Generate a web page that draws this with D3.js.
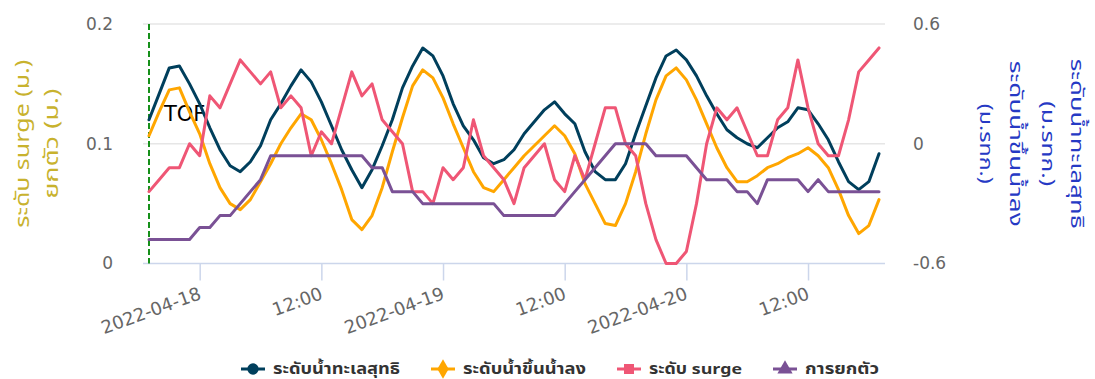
<!DOCTYPE html>
<html>
<head>
<meta charset="utf-8">
<script src="https://cdn.jsdelivr.net/npm/d3@7"></script>
<style>
  html, body { margin: 0; padding: 0; background: #ffffff; }
  svg { display: block; }
</style>
</head>
<body>
<svg id="chart" width="1095" height="379"></svg>
<script>
// Hourly series, 2022-04-17 19:00 to 2022-04-20 19:00
const startTime = "2022-04-17 19:00";

// ระดับน้ำทะเลสุทธิ (m MSL) – right axis
const netLevel = [0.12,0.25,0.38,0.39,0.30,0.20,0.08,-0.03,-0.11,-0.14,-0.09,-0.01,0.12,0.20,0.29,0.37,0.31,0.21,0.09,-0.03,-0.13,-0.22,-0.13,-0.01,0.12,0.28,0.39,0.48,0.44,0.34,0.20,0.09,0.02,-0.07,-0.10,-0.08,-0.03,0.05,0.11,0.17,0.21,0.15,0.10,-0.04,-0.14,-0.18,-0.18,-0.10,0.05,0.19,0.33,0.44,0.47,0.42,0.34,0.24,0.15,0.07,0.03,0.00,-0.02,0.03,0.08,0.11,0.18,0.17,0.10,0.02,-0.09,-0.19,-0.23,-0.19,-0.05];

// ระดับน้ำขึ้นน้ำลง (m MSL) – right axis
const tideLevel = [0.04,0.16,0.27,0.28,0.16,0.05,-0.10,-0.22,-0.30,-0.33,-0.28,-0.19,-0.10,0.00,0.08,0.15,0.12,0.02,-0.10,-0.23,-0.38,-0.43,-0.36,-0.22,-0.04,0.13,0.29,0.37,0.33,0.23,0.10,-0.02,-0.14,-0.22,-0.24,-0.18,-0.12,-0.06,-0.01,0.04,0.09,0.04,-0.05,-0.20,-0.30,-0.40,-0.41,-0.30,-0.14,0.05,0.22,0.34,0.38,0.32,0.22,0.10,-0.02,-0.12,-0.19,-0.19,-0.16,-0.12,-0.10,-0.07,-0.05,-0.02,-0.06,-0.12,-0.23,-0.36,-0.45,-0.41,-0.28];

// ระดับ surge (m) – left axis
const surgeLevel = [0.06,0.07,0.08,0.08,0.10,0.09,0.14,0.13,0.15,0.17,0.16,0.15,0.16,0.13,0.14,0.13,0.09,0.11,0.10,0.13,0.16,0.14,0.15,0.12,0.11,0.10,0.06,0.06,0.05,0.08,0.07,0.08,0.12,0.09,0.08,0.07,0.05,0.08,0.09,0.10,0.07,0.06,0.09,0.07,0.10,0.13,0.13,0.10,0.09,0.05,0.02,0.00,0.00,0.01,0.05,0.10,0.13,0.12,0.13,0.11,0.09,0.09,0.12,0.13,0.17,0.13,0.10,0.09,0.09,0.12,0.16,0.17,0.18];

// การยกตัว (m) – left axis
const upliftLevel = [0.02,0.02,0.02,0.02,0.02,0.03,0.03,0.04,0.04,0.05,0.06,0.07,0.09,0.09,0.09,0.09,0.09,0.09,0.09,0.09,0.09,0.09,0.08,0.08,0.06,0.06,0.06,0.05,0.05,0.05,0.05,0.05,0.05,0.05,0.05,0.04,0.04,0.04,0.04,0.04,0.04,0.05,0.06,0.07,0.08,0.09,0.10,0.10,0.10,0.10,0.09,0.09,0.09,0.09,0.08,0.07,0.07,0.07,0.06,0.06,0.05,0.07,0.07,0.07,0.07,0.06,0.07,0.06,0.06,0.06,0.06,0.06,0.06];

const seriesNames = ["ระดับน้ำทะเลสุทธิ", "ระดับน้ำขึ้นน้ำลง", "ระดับ surge", "การยกตัว"];
const leftTicks = [0, 0.1, 0.2];
const rightTicks = [-0.6, 0, 0.6];
const xTickTimes = ["2022-04-18 00:00", "2022-04-18 12:00", "2022-04-19 00:00", "2022-04-19 12:00", "2022-04-20 00:00", "2022-04-20 12:00"];
const leftTitleLines = ["ระดับ surge (ม.)", "ยกตัว (ม.)"];
const rightTitleLines = ["ระดับน้ำทะเลสุทธิ", "(ม.รทก.)", "ระดับน้ำขึ้นน้ำลง", "(ม.รทก.)"];
const markerLabel = "TOF";

// ---- layout & style ----
const plot = { left: 143, right: 885, top: 24, bottom: 263.5 };
const colors = ["#003f5c", "#ffa600", "#ef5675", "#7a5195"];
const thaiFont = "'Noto Sans Thai', 'Noto Sans Thai UI', 'Noto Sans', 'DejaVu Sans', sans-serif";
const numFont = "'DejaVu Sans', sans-serif";
// title columns: centre x and drawn length of each line
const leftTitleLayout = [{ cx: 23, len: 168 }, { cx: 52, len: 110 }];
const rightTitleLayout = [{ cx: 1076, len: 170 }, { cx: 1047, len: 85 }, { cx: 1015, len: 166 }, { cx: 985, len: 80 }];
const legendTextLen = [127, 123, 93, 74];

const parseTime = d3.timeParse("%Y-%m-%d %H:%M");
const t0 = parseTime(startTime);
const times = netLevel.map((_, i) => d3.timeHour.offset(t0, i));

const svg = d3.select("#chart");

const x = d3.scaleTime()
  .domain(d3.extent(times))
  .range([plot.left + 6, plot.right - 6]);
const yLeft = d3.scaleLinear().domain([0, 0.2]).range([plot.bottom, plot.top]);
const yRight = d3.scaleLinear().domain([-0.6, 0.6]).range([plot.bottom, plot.top]);

// grid lines
svg.append("g")
  .selectAll("line")
  .data(leftTicks.filter(d => d !== 0))
  .join("line")
  .attr("x1", plot.left).attr("x2", plot.right)
  .attr("y1", d => yLeft(d)).attr("y2", d => yLeft(d))
  .attr("stroke", "#e6e6e6").attr("stroke-width", 1.5);

// x axis
const xTicks = xTickTimes.map(parseTime);
const fmtDay = d3.timeFormat("%Y-%m-%d"), fmtHour = d3.timeFormat("%H:%M");
const xAxis = d3.axisBottom(x)
  .tickValues(xTicks)
  .tickSize(17)
  .tickSizeOuter(0)
  .tickFormat(d => (d.getHours() === 0 ? fmtDay(d) : fmtHour(d)));
const gx = svg.append("g").attr("transform", `translate(0,${plot.bottom})`).call(xAxis);
gx.select(".domain").remove();
gx.selectAll(".tick line").attr("stroke", "#ccd6eb").attr("stroke-width", 1.5);
gx.selectAll(".tick text")
  .attr("fill", "#666666")
  .style("font-family", numFont)
  .style("font-size", "18px")
  .attr("text-anchor", "end")
  .attr("dy", null)
  .attr("y", null)
  .attr("transform", "translate(2,35) rotate(-20)");
svg.append("line")
  .attr("x1", plot.left).attr("x2", plot.right)
  .attr("y1", plot.bottom).attr("y2", plot.bottom)
  .attr("stroke", "#ccd6eb").attr("stroke-width", 1.5);

// left y axis
const gl = svg.append("g").attr("transform", `translate(${plot.left},0)`)
  .call(d3.axisLeft(yLeft).tickValues(leftTicks).tickSize(0).tickPadding(30).tickFormat(d => String(d)));
gl.select(".domain").remove();
gl.selectAll(".tick text").attr("fill", "#666666").style("font-family", numFont).style("font-size", "17px");

// right y axis
const gr = svg.append("g").attr("transform", `translate(${plot.right},0)`)
  .call(d3.axisRight(yRight).tickValues(rightTicks).tickSize(0).tickPadding(28).tickFormat(d => String(d)));
gr.select(".domain").remove();
gr.selectAll(".tick text").attr("fill", "#666666").style("font-family", numFont).style("font-size", "17px");

// axis titles, one text per line
const midY = (plot.top + plot.bottom) / 2;
svg.append("g").selectAll("text")
  .data(leftTitleLines)
  .join("text")
  .attr("transform", (d, i) => `translate(${leftTitleLayout[i].cx},${midY}) rotate(-90)`)
  .attr("text-anchor", "middle")
  .attr("dominant-baseline", "central")
  .attr("fill", "#c8b22e")
  .attr("textLength", (d, i) => leftTitleLayout[i].len)
  .attr("lengthAdjust", "spacingAndGlyphs")
  .style("font-family", thaiFont)
  .style("font-size", "20px")
  .text(d => d);

svg.append("g").selectAll("text")
  .data(rightTitleLines)
  .join("text")
  .attr("transform", (d, i) => `translate(${rightTitleLayout[i].cx},${midY}) rotate(90)`)
  .attr("text-anchor", "middle")
  .attr("dominant-baseline", "central")
  .attr("fill", "#2639c4")
  .attr("textLength", (d, i) => rightTitleLayout[i].len)
  .attr("lengthAdjust", "spacingAndGlyphs")
  .style("font-family", thaiFont)
  .style("font-size", "18px")
  .text(d => d);

// forecast marker line and label
const markX = x(t0);
svg.append("line")
  .attr("x1", markX).attr("x2", markX)
  .attr("y1", plot.top).attr("y2", plot.bottom)
  .attr("stroke", "#16901a").attr("stroke-width", 2).attr("stroke-dasharray", "6,3");
svg.append("text")
  .attr("x", markX + 15).attr("y", 121)
  .attr("fill", "#000000")
  .style("font-family", "'DejaVu Sans', sans-serif")
  .style("font-size", "21px")
  .text(markerLabel);

// series lines
const series = [
  { values: netLevel, y: yRight },
  { values: tideLevel, y: yRight },
  { values: surgeLevel, y: yLeft },
  { values: upliftLevel, y: yLeft }
];
series.forEach((s, k) => {
  const line = d3.line().x((d, i) => x(times[i])).y(d => s.y(d));
  svg.append("path")
    .datum(s.values)
    .attr("d", line)
    .attr("fill", "none")
    .attr("stroke", colors[k])
    .attr("stroke-width", 3)
    .attr("stroke-linejoin", "round")
    .attr("stroke-linecap", "round");
});

// legend
const symbols = [d3.symbolCircle, d3.symbolDiamond, d3.symbolSquare, d3.symbolTriangle];
const legendY = 369;
const legend = svg.append("g");
const items = seriesNames.map((name, k) => {
  const g = legend.append("g");
  g.append("line").attr("x1", 0).attr("x2", 24).attr("y1", 0).attr("y2", 0)
    .attr("stroke", colors[k]).attr("stroke-width", 3);
  g.append("path").attr("d", d3.symbol(symbols[k], k === 1 ? 110 : 100)())
    .attr("transform", "translate(12,0)").attr("fill", colors[k]);
  g.append("text").attr("x", 32).attr("y", 0).attr("dy", "0.35em")
    .attr("fill", "#333333")
    .attr("textLength", legendTextLen[k])
    .attr("lengthAdjust", "spacingAndGlyphs")
    .style("font-family", thaiFont)
    .style("font-size", "15px").style("font-weight", "bold")
    .text(name);
  return { g, w: 32 + legendTextLen[k] };
});
const gap = 31;
const total = d3.sum(items, d => d.w) + gap * (items.length - 1);
let cx = 560 - total / 2;
items.forEach(it => {
  it.g.attr("transform", `translate(${cx},${legendY})`);
  cx += it.w + gap;
});
</script>
</body>
</html>
